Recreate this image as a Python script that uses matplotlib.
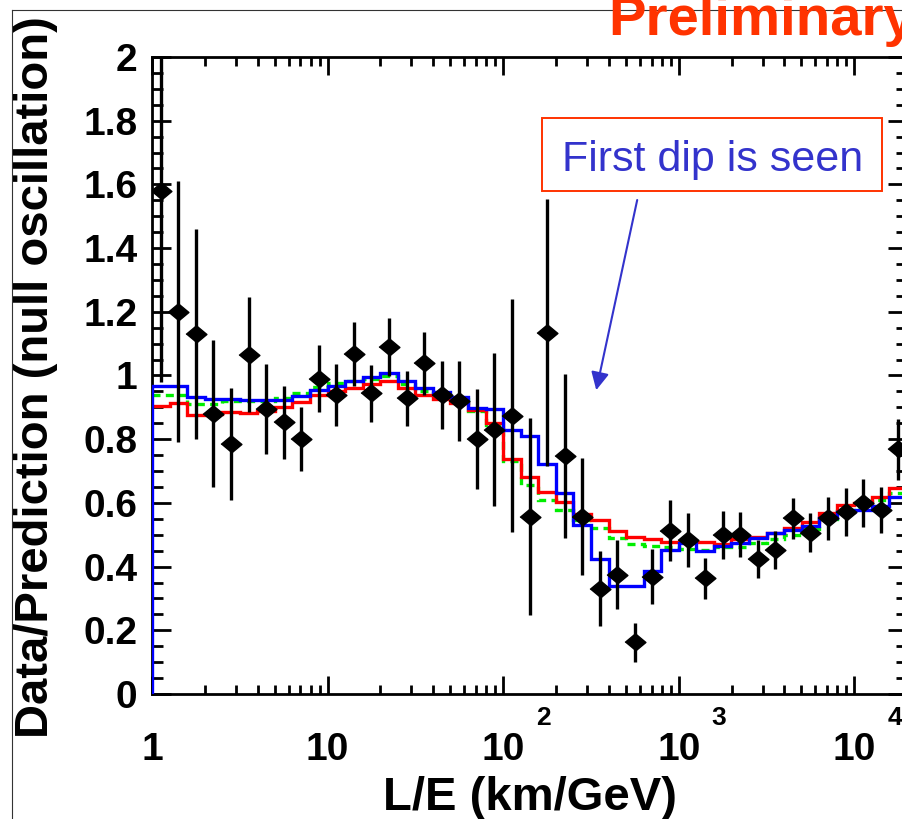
import numpy as np
import matplotlib.pyplot as plt
from matplotlib.lines import Line2D
from matplotlib.patches import Rectangle
from matplotlib.ticker import MultipleLocator, LogLocator, FixedLocator, FixedFormatter, NullFormatter

plt.rcParams['font.family'] = ['Liberation Sans', 'DejaVu Sans']

# ####################################################################
# binning: 43 bins of 0.1 in log10(L/E), from 1 to 10^4.3 km/GeV
log_edges = np.round(np.arange(0, 4.31, 0.1), 2)

# data / prediction (null oscillation) and its error
ratio = [1.58, 1.20, 1.13, 0.88, 0.785, 1.065, 0.895, 0.853, 0.80, 0.99,
         0.94, 1.067, 0.944, 1.09, 0.928, 1.038, 0.939, 0.92, 0.80, 0.83,
         0.874, 0.557, 1.135, 0.748, 0.557, 0.33, 0.374, 0.162, 0.368, 0.513,
         0.484, 0.363, 0.50, 0.50, 0.423, 0.452, 0.552, 0.507, 0.552, 0.572,
         0.599, 0.578, 0.768]
ratio_err = [0.60, 0.41, 0.33, 0.23, 0.175, 0.18, 0.14, 0.115, 0.10, 0.105,
             0.097, 0.10, 0.09, 0.09, 0.087, 0.10, 0.108, 0.125, 0.157, 0.24,
             0.365, 0.31, 0.418, 0.257, 0.183, 0.118, 0.108, 0.06, 0.086, 0.095,
             0.084, 0.065, 0.075, 0.07, 0.06, 0.06, 0.064, 0.062, 0.068, 0.075,
             0.075, 0.072, 0.096]

# model expectations
mc_blue = [0.966, 0.966, 0.934, 0.926, 0.926, 0.922, 0.924, 0.924, 0.935, 0.953,
           0.968, 0.984, 0.996, 1.008, 0.983, 0.962, 0.949, 0.932, 0.897, 0.895,
           0.829, 0.810, 0.723, 0.632, 0.531, 0.424, 0.339, 0.339, 0.387, 0.452,
           0.474, 0.450, 0.466, 0.473, 0.489, 0.505, 0.515, 0.527, 0.552, 0.572,
           0.578, 0.590, 0.619]
mc_red = [0.905, 0.913, 0.875, 0.879, 0.884, 0.882, 0.888, 0.900, 0.916, 0.938,
          0.952, 0.962, 0.972, 0.983, 0.960, 0.939, 0.926, 0.913, 0.892, 0.850,
          0.737, 0.682, 0.635, 0.604, 0.565, 0.546, 0.513, 0.492, 0.487, 0.478,
          0.478, 0.478, 0.471, 0.486, 0.492, 0.507, 0.520, 0.541, 0.567, 0.593,
          0.599, 0.618, 0.646]
mc_green = [0.940, 0.940, 0.912, 0.912, 0.920, 0.920, 0.920, 0.930, 0.945, 0.965,
            0.977, 0.984, 0.990, 0.997, 0.972, 0.952, 0.940, 0.925, 0.890, 0.845,
            0.730, 0.656, 0.608, 0.578, 0.546, 0.520, 0.489, 0.470, 0.465, 0.460,
            0.455, 0.452, 0.462, 0.460, 0.473, 0.486, 0.499, 0.517, 0.550, 0.575,
            0.586, 0.609, 0.630]

x_ticks = [1, 10, 100, 1000, 10000]
x_ticklabels = ['1', '10', '10', '10', '10']
x_exponents = [2, 3, 4]

# ####################################################################
W, H = 902, 819
fig = plt.figure(figsize=(W / 100, H / 100), dpi=100)
ax = fig.add_axes([152 / W, 1 - 694 / H, (907 - 152) / W, (694 - 57) / H])

edges = 10 ** log_edges
centers = 10 ** (0.5 * (log_edges[:-1] + log_edges[1:]))

ax.stairs(mc_green, edges, baseline=None, color='#00ee00', lw=2.4,
          linestyle=(0, (2.4, 1.6)), zorder=2)
ax.stairs(mc_red, edges, baseline=None, color='#ff0000', lw=2.4, zorder=3)
ax.stairs(mc_blue, edges, baseline=0, color='#0000ff', lw=2.4, zorder=4)

diamond = [(-1.2, 0), (0, 1), (1.2, 0), (0, -1)]
ax.errorbar(centers, ratio, yerr=ratio_err, fmt='none', ecolor='k',
            elinewidth=2.4, capsize=0, zorder=5)
ax.plot(centers, ratio, linestyle='none', marker=diamond, ms=15,
        color='k', mec='k', zorder=6)

ax.set_xscale('log')
ax.set_xlim(1, 10 ** 4.3)
ax.set_ylim(0, 2)

ax.yaxis.set_major_locator(MultipleLocator(0.2))
ax.yaxis.set_minor_locator(MultipleLocator(0.05))
ax.yaxis.set_major_formatter(plt.FuncFormatter(lambda v, p: '%g' % round(v, 2)))
ax.xaxis.set_major_locator(FixedLocator(x_ticks))
ax.xaxis.set_major_formatter(FixedFormatter(x_ticklabels))
ax.xaxis.set_minor_locator(LogLocator(base=10, subs=np.arange(2, 10)))
ax.xaxis.set_minor_formatter(NullFormatter())

ax.tick_params(which='both', direction='in', top=True, right=True, width=2)
ax.tick_params(axis='x', which='major', length=13, pad=27)
ax.tick_params(axis='x', which='minor', length=6.5)
ax.tick_params(axis='y', which='major', length=14, pad=10.5)
ax.tick_params(axis='y', which='minor', length=8)
for lab in ax.get_xticklabels() + ax.get_yticklabels():
    lab.set_fontsize(28)
    lab.set_fontweight('bold')
for s in ax.spines.values():
    s.set_linewidth(2)

# exponents on the decade labels
for e in x_exponents:
    ax.annotate(str(e), xy=(10 ** e, 0), xycoords=('data', 'axes fraction'),
                xytext=(29, -17), textcoords='offset points', ha='center',
                va='center', fontsize=19, fontweight='bold', annotation_clip=False)

fig.text(48 / W, 1 - 377 / H, 'Data/Prediction (null oscillation)', rotation=90,
         rotation_mode='anchor', ha='center', va='baseline', fontsize=34,
         fontweight='bold')
fig.text(530 / W, 1 - 810 / H, 'L/E (km/GeV)', ha='center', va='baseline',
         fontsize=34, fontweight='bold')

# canvas frame
fig.add_artist(Line2D([12 / W, 12 / W], [0, 1 - 10 / H], color='#333333', lw=0.8))
fig.add_artist(Line2D([12 / W, 1], [1 - 10 / H, 1 - 10 / H], color='#333333', lw=0.8))

fig.text(608 / W, 1 - 35 / H, 'Preliminary', ha='left', va='baseline',
         fontsize=40.5, fontweight='bold', color='#ff3300')

# annotation box
fig.add_artist(Rectangle((542 / W, 1 - 191 / H), 340 / W, 73 / H,
                         transform=fig.transFigure, fill=False,
                         edgecolor='#ff3300', lw=1.4))
fig.text(712.5 / W, 1 - 171 / H, 'First dip is seen', ha='center',
         va='baseline', fontsize=31, color='#3333cc')
ax.annotate('', xy=(339, 0.954), xytext=(580, 1.551),
            arrowprops=dict(arrowstyle='-|>', color='#3333cc', lw=1.5,
                            mutation_scale=27, shrinkA=0, shrinkB=0))

fig.savefig('out.png', dpi=100)
